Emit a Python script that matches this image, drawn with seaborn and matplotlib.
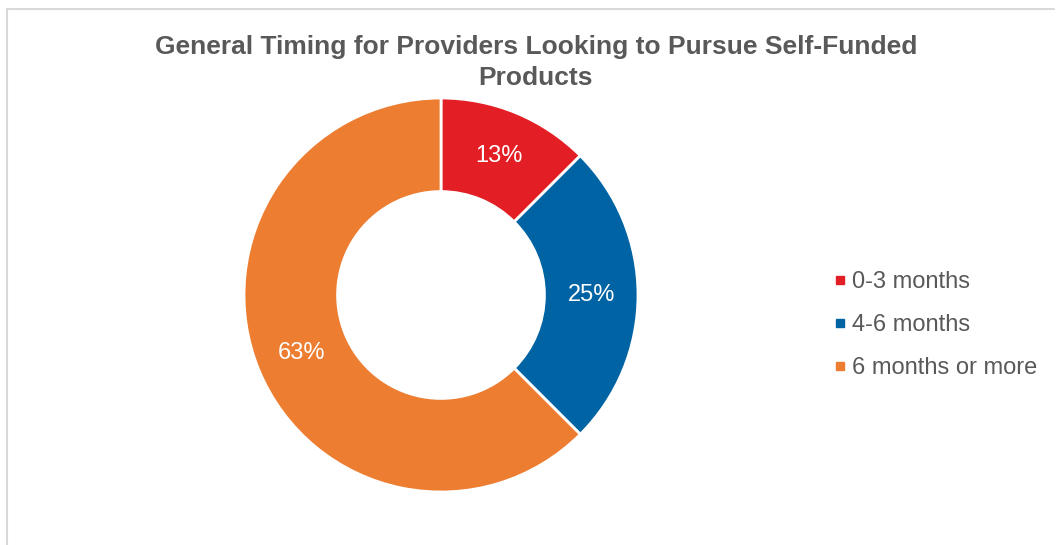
import matplotlib
matplotlib.use("Agg")
import matplotlib.pyplot as plt
import seaborn as sns
import numpy as np
from matplotlib.lines import Line2D

categories = ["0-3 months", "4-6 months", "6 months or more"]
values = [12.5, 25.0, 62.5]
labels = ["13%", "25%", "63%"]
colors = ["#E31E24", "#0063A3", "#ED7D31"]
title = "General Timing for Providers Looking to Pursue Self-Funded\nProducts"

sns.set_theme(style="white")
plt.rcParams['font.family'] = ['Liberation Sans', 'DejaVu Sans']

W, H = 1057, 545
fig = plt.figure(figsize=(W / 100, H / 100), dpi=100)
fig.patch.set_facecolor("white")

# border (top and left, light gray)
fig.add_artist(Line2D([6.5 / W, 1054 / W], [1 - 9 / H, 1 - 9 / H], color="#D9D9D9", lw=1.5, transform=fig.transFigure))
fig.add_artist(Line2D([6.5 / W, 6.5 / W], [0, 1 - 9 / H], color="#D9D9D9", lw=1.5, transform=fig.transFigure))

cx, cy, R = 441, 295, 197
ax = fig.add_axes([(cx - R) / W, (H - cy - R) / H, 2 * R / W, 2 * R / H])
wedges, _ = ax.pie(values, colors=colors, startangle=90, counterclock=False,
                   radius=1.0, wedgeprops=dict(width=0.475, edgecolor="white", linewidth=2))
cum = np.cumsum([0] + values)
total = sum(values)
for i, lab in enumerate(labels):
    mid = 90 - 360 * (cum[i] + values[i] / 2) / total
    r = 0.765
    ax.text(r * np.cos(np.radians(mid)), r * np.sin(np.radians(mid)), lab,
            ha="center", va="center", color="white", fontsize=17)
ax.set_xlim(-1, 1)
ax.set_ylim(-1, 1)
ax.set_aspect("equal")
ax.axis("off")

fig.text(536 / W, 1 - 62.5 / H, title, ha="center", va="center", fontsize=19,
         fontweight="bold", color="#595959", linespacing=1.38)

handles = [Line2D([], [], marker="s", linestyle="none", markersize=6, markerfacecolor=c,
                  markeredgecolor=c) for c in colors]
leg = fig.legend(handles, categories, loc="center left", bbox_to_anchor=(813 / W, 1 - 325 / H),
                 frameon=False, fontsize=17, handlelength=0.5, handletextpad=0.25,
                 labelspacing=0.88, labelcolor="#595959")

fig.savefig("out.png", dpi=100, facecolor="white")
